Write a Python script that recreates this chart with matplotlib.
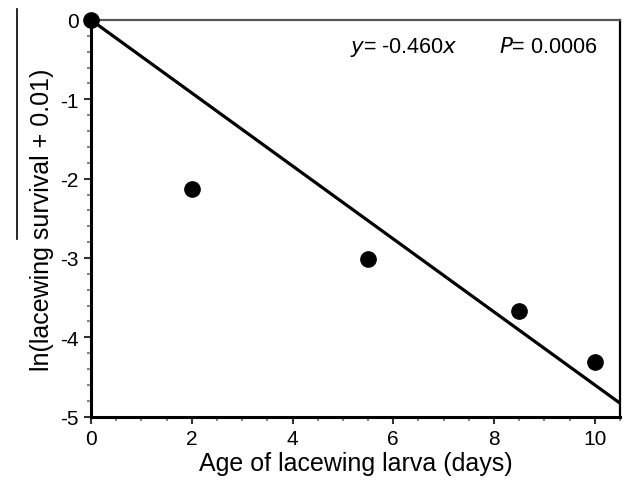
import numpy as np
import matplotlib.pyplot as plt
from matplotlib.ticker import MultipleLocator
from matplotlib.lines import Line2D

plt.rcParams['font.family'] = ['Liberation Sans', 'DejaVu Sans']
plt.rcParams['axes.unicode_minus'] = False

age = [0, 2, 5.5, 8.5, 10]
ln_surv = [0, -2.13, -3.01, -3.67, -4.31]
slope = -0.460
x_fit = np.array([0, 10.5])

fig = plt.figure(figsize=(6.25, 4.85), dpi=100)
ax = fig.add_axes([0.1456, 0.1388, 0.8464, 0.818])

ax.plot(x_fit, slope * x_fit, color='black', lw=2.3, solid_capstyle='butt')
ax.plot(age, ln_surv, 'o', color='black', ms=11, clip_on=False, zorder=5)

ax.set_xlim(0, 10.5)
ax.set_ylim(-5, 0)
ax.xaxis.set_major_locator(MultipleLocator(2))
ax.xaxis.set_minor_locator(MultipleLocator(0.5))
ax.yaxis.set_major_locator(MultipleLocator(1))
ax.yaxis.set_minor_locator(MultipleLocator(0.2))
ax.tick_params(which='both', direction='out', width=1.5, labelsize=15, color='#333')
ax.tick_params(which='major', length=5, pad=4)
ax.tick_params(which='minor', length=3, color='#888')

for s in ['left', 'bottom']:
    ax.spines[s].set_linewidth(2.2)
ax.spines['top'].set_linewidth(1.6)
ax.spines['top'].set_color('#555')
ax.spines['right'].set_linewidth(1.6)

ax.set_xlabel('Age of lacewing larva (days)', fontsize=18, labelpad=2)
ax.set_ylabel('ln(lacewing survival + 0.01)', fontsize=18, labelpad=4)

ax.text(5.15, -0.34, r'$\it{y}$= -0.460$\it{x}$', fontsize=15.5, va='center')
ax.text(8.1, -0.34, r'$\it{P}$= 0.0006', fontsize=15.5, va='center')

fig.add_artist(Line2D([17 / 625, 17 / 625], [1 - 10 / 485, 1 - 240 / 485],
                      color='black', lw=1.2, transform=fig.transFigure))

fig.savefig('out.png', dpi=100)
